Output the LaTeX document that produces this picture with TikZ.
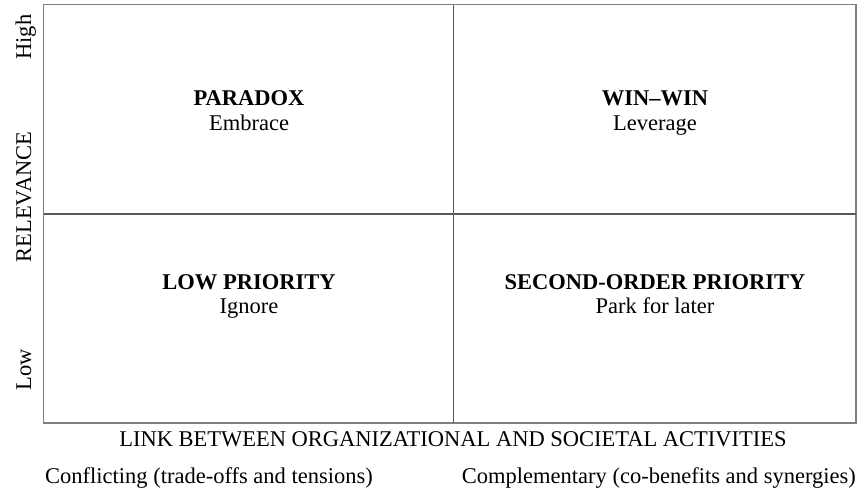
\documentclass[tikz,border=0pt]{standalone}
\usepackage{fontspec}
\setmainfont{Liberation Serif}
\usepackage{tikz}

\tikzset{
  quadtitle/.style={font=\fontsize{22.5}{26}\selectfont\bfseries,anchor=base},
  quadsub/.style={font=\fontsize{22.5}{26}\selectfont,anchor=base},
  axislabel/.style={font=\fontsize{22.5}{26}\selectfont,anchor=base}
}

\begin{document}
\begin{tikzpicture}[x=1pt,y=-1pt]
\useasboundingbox (0,0) rectangle (858,491);

\draw[draw=black!50,line width=1.5pt] (43.5,4.5) rectangle (856,423);
\draw[draw=black!65,line width=1.5pt] (453.5,4.5) -- (453.5,423);
\draw[draw=black!65,line width=1.5pt] (43.5,214) -- (856,214);

\node[quadtitle] (paradox) at (249,105) {PARADOX};
\node[quadsub] (embrace) at (249,130) {Embrace};

\node[quadtitle] (winwin) at (655,105) {WIN--WIN};
\node[quadsub] (leverage) at (655,130) {Leverage};

\node[quadtitle] (lowprio) at (249,289) {LOW PRIORITY};
\node[quadsub] (ignore) at (249,313) {Ignore};

\node[quadtitle] (secprio) at (655,289) {SECOND-ORDER PRIORITY};
\node[quadsub] (park) at (655,313) {Park for later};

\node[axislabel,rotate=90,inner sep=0pt] (high) at (31,37) {High};
\node[axislabel,rotate=90,inner sep=0pt] (relevance) at (31,197) {RELEVANCE};
\node[axislabel,rotate=90,inner sep=0pt] (low) at (31,370) {Low};

\node[axislabel,inner sep=0pt] (link) at (453,446) {LINK BETWEEN ORGANIZATIONAL AND SOCIETAL ACTIVITIES};
\node[axislabel,anchor=base west,inner sep=0pt] (conflict) at (45,483) {Conflicting (trade-offs and tensions)};
\node[axislabel,anchor=base east,inner sep=0pt] (complement) at (856,483) {Complementary (co-benefits and synergies)};
\end{tikzpicture}
\end{document}
